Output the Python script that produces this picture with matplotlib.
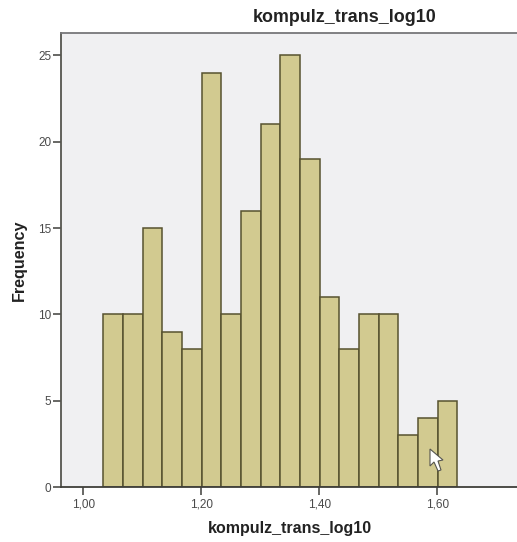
"""SPSS style histogram of kompulz_trans_log10, saved to out.png"""
import matplotlib
matplotlib.use("Agg")
import matplotlib.pyplot as plt
from matplotlib.patches import Polygon

plt.rcParams["font.family"] = ["Liberation Sans", "DejaVu Sans"]

bin_left = [1.034, 1.0673, 1.1007, 1.134, 1.1673, 1.2007, 1.234, 1.2673, 1.3007,
            1.334, 1.3673, 1.4007, 1.434, 1.4673, 1.5007, 1.534, 1.5673, 1.6007]
bin_width = 0.0333
counts = [10, 10, 15, 9, 8, 24, 10, 16, 21, 25, 19, 11, 8, 10, 10, 3, 4, 5]
x_ticks = [1.0, 1.2, 1.4, 1.6]
x_labels = ["1,00", "1,20", "1,40", "1,60"]
y_ticks = [0, 5, 10, 15, 20, 25]

W, H = 517, 542
DARK = "#3f3f3a"

fig = plt.figure(figsize=(W / 100, H / 100), dpi=100, facecolor="white")
ax = fig.add_axes([61 / W, 1 - 487 / H, (W - 61) / W, (487 - 33) / H], facecolor="#f0f0f2")

ax.bar(bin_left, counts, width=bin_width, align="edge", color="#d2ca90",
       edgecolor="#57522f", linewidth=1.1, zorder=2)

ax.set_xlim(0.962, 1.735)
ax.set_ylim(0, 26.3)
ax.set_xticks(x_ticks, x_labels)
ax.set_yticks(y_ticks)
ax.tick_params(axis="x", direction="out", length=6, width=1.1, color=DARK,
               labelsize=8.5, labelcolor="#4a4a4a", pad=2)
ax.tick_params(axis="y", direction="out", length=6, width=1.1, color=DARK,
               labelsize=8.5, labelcolor="#4a4a4a", pad=1)

ax.spines["right"].set_visible(False)
ax.spines["left"].set_color("#55554f")
ax.spines["top"].set_color("#77777a")
ax.spines["bottom"].set_color(DARK)
for s in ("left", "top", "bottom"):
    ax.spines[s].set_linewidth(1.3)

fig.text(345 / W, 1 - 18 / H, "kompulz_trans_log10", ha="center", va="center",
         fontsize=12.9, fontweight="bold", color="#222222")
fig.text(289.5 / W, 1 - 528 / H, "kompulz_trans_log10", ha="center", va="center",
         fontsize=11.5, fontweight="bold", color="#222222")
fig.text(19 / W, 1 - 260 / H, "Frequency", ha="center", va="center", rotation=90,
         fontsize=11.6, fontweight="bold", color="#222222")

# mouse pointer captured in the screenshot, placed in pixel space
cursor = [(430, 449), (430, 466), (434, 462), (438, 471), (441, 470), (438, 461), (443, 460)]
fig.add_artist(Polygon([(x / W, 1 - y / H) for x, y in cursor], closed=True,
                       transform=fig.transFigure, facecolor="white",
                       edgecolor="#55554f", linewidth=0.8, zorder=5))

fig.savefig("out.png", dpi=100)
